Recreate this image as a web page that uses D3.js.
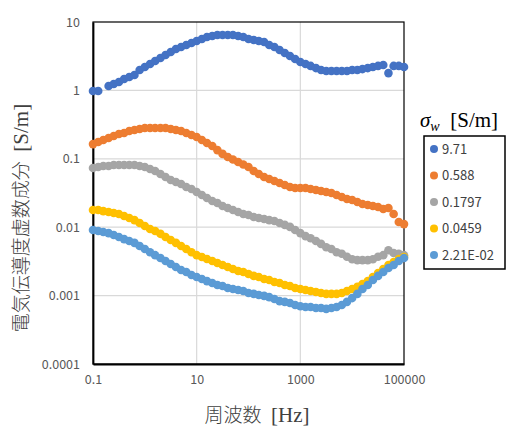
<!DOCTYPE html>
<html><head><meta charset="utf-8">
<script src="https://cdn.jsdelivr.net/npm/d3@7"></script>
<style>body{margin:0;background:#fff}svg{display:block}.sf{font-family:"Liberation Serif","DejaVu Serif",serif}.jp{font-family:"Noto Sans CJK JP",sans-serif;font-weight:300}</style>
</head><body><svg id="c" width="507" height="427"></svg>
<script>
const freq = [0.1,0.126,0.158,0.2,0.251,0.316,0.398,0.501,0.631,0.794,
1,1.26,1.58,2,2.51,3.16,3.98,5.01,6.31,7.94,
10,12.6,15.8,20,25.1,31.6,39.8,50.1,63.1,79.4,
100,126,158,200,251,316,398,501,631,794,
1000,1260,1580,2000,2510,3160,3980,5010,6310,7940,
10000,12600,15800,20000,25100,31600,39800,50100,63100,79400,
100000];
const s971 = [0.98,0.98,null,1.16,1.24,1.33,1.47,1.57,1.68,1.99,
2.20,2.43,2.69,2.98,3.30,3.64,4.03,4.31,4.61,4.93,
5.28,5.64,6.04,6.24,6.45,6.45,6.45,6.45,6.24,6.04,
5.64,5.46,5.28,5.10,4.61,4.31,3.90,3.52,3.18,2.88,
2.60,2.43,2.28,2.12,1.99,1.92,1.92,1.92,1.92,1.92,
1.99,1.99,2.05,2.12,2.20,2.28,2.35,1.79,2.28,2.28,
2.20];
const s0588 = [0.164,0.176,0.188,0.201,0.215,0.231,0.238,0.255,0.264,0.273,
0.282,0.282,0.282,0.282,0.282,0.273,0.264,0.255,0.238,0.223,
0.208,0.188,0.170,0.154,0.134,0.118,0.106,0.0977,0.0900,0.0827,
0.0759,0.0664,0.0600,0.0542,0.0507,0.0474,0.0443,0.0414,0.0387,0.0374,
0.0374,0.0374,0.0362,0.0350,0.0338,0.0327,0.0316,0.0296,0.0277,0.0258,
0.0250,0.0234,0.0218,0.0211,0.0204,0.0197,0.0185,0.0191,0.0156,0.0119,
0.0111];
const s01797 = [0.0734,0.0759,0.0785,0.0785,0.0812,0.0812,0.0812,0.0812,0.0812,0.0785,
0.0759,0.0710,0.0664,0.0600,0.0542,0.0490,0.0458,0.0428,0.0387,0.0362,
0.0327,0.0296,0.0267,0.0242,0.0226,0.0204,0.0191,0.0178,0.0167,0.0156,
0.0151,0.0141,0.0136,0.0132,0.0127,0.0123,0.0115,0.0108,0.0101,0.0091,
0.0082,0.0074,0.0069,0.0063,0.0057,0.0051,0.0048,0.0043,0.0041,0.0037,
0.0034,0.0033,0.0033,0.0033,0.0034,0.0037,0.0039,0.0046,0.0042,0.0041,
0.0039];
const s00459 = [0.0178,0.0178,0.0172,0.0167,0.0161,0.0156,0.0146,0.0136,0.0127,0.0115,
0.0104,0.0094,0.0088,0.0080,0.0072,0.0065,0.0059,0.0053,0.0048,0.0043,
0.0039,0.00367,0.00343,0.00320,0.00300,0.00280,0.00262,0.00245,0.00229,0.00221,
0.00207,0.00194,0.00187,0.00175,0.00169,0.00158,0.00153,0.00143,0.00138,0.00129,
0.00125,0.00121,0.00117,0.00113,0.00109,0.00106,0.00106,0.00106,0.00109,0.00117,
0.00125,0.00134,0.00148,0.00163,0.00187,0.00214,0.00245,0.00280,0.00310,0.00343,
0.00367];
const s00221 = [0.0091,0.0088,0.0085,0.0082,0.0077,0.0072,0.0067,0.0063,0.0059,0.0053,
0.0048,0.0043,0.0039,0.00355,0.00320,0.00290,0.00262,0.00237,0.00221,0.00200,
0.00187,0.00175,0.00163,0.00153,0.00143,0.00138,0.00129,0.00125,0.00121,0.00117,
0.00109,0.00106,0.00102,0.00099,0.00095,0.00089,0.00083,0.00081,0.00078,0.00073,
0.00070,0.00068,0.00068,0.00066,0.00066,0.00064,0.00066,0.00068,0.00073,0.00081,
0.00092,0.00106,0.00125,0.00143,0.00169,0.00194,0.00221,0.00253,0.00280,0.00320,
0.00355];
const seriesNames = ["9.71","0.588","0.1797","0.0459","2.21E-02"];
const seriesValues = [s971,s0588,s01797,s00459,s00221];
const seriesColors = ["#4472C4","#ED7D31","#A5A5A5","#FFC000","#5B9BD5"];
const xTicks = [0.1,10,1000,100000];
const xTickLabels = ["0.1","10","1000","100000"];
const yTicks = [0.0001,0.001,0.01,0.1,1,10];
const yTickLabels = ["0.0001","0.001","0.01","0.1","1","10"];

const svg = d3.select("#c");
const L=93,T=22,R=404,B=364;
const x = d3.scaleLog().domain([0.1,100000]).range([L,R]);
const y = d3.scaleLog().domain([0.0001,10]).range([B,T]);

// grid
svg.append("g").selectAll("line").data(yTicks.slice(1,-1)).join("line")
  .attr("x1",L).attr("x2",R).attr("y1",d=>y(d)).attr("y2",d=>y(d))
  .attr("stroke","#d9d9d9").attr("stroke-width",1.2);
svg.append("g").selectAll("line").data(xTicks.slice(1,-1)).join("line")
  .attr("y1",T).attr("y2",B).attr("x1",d=>x(d)).attr("x2",d=>x(d))
  .attr("stroke","#d9d9d9").attr("stroke-width",1.2);
svg.append("rect").attr("x",L).attr("y",T).attr("width",R-L).attr("height",B-T)
  .attr("fill","none").attr("stroke","#000").attr("stroke-width",1.2);

const tickFont = "'Noto Sans CJK JP','Noto Sans',sans-serif";
const ya = svg.append("g").attr("transform",`translate(${L},0)`)
  .call(d3.axisLeft(y).tickValues(yTicks).tickSize(0).tickPadding(13)
    .tickFormat((d,i)=>yTickLabels[i]));
const xa = svg.append("g").attr("transform",`translate(0,${B})`)
  .call(d3.axisBottom(x).tickValues(xTicks).tickSize(0).tickPadding(11)
    .tickFormat((d,i)=>xTickLabels[i]));
[ya,xa].forEach(a=>{
  a.select(".domain").attr("stroke","#000").attr("stroke-width",1.8);
  a.selectAll("text").attr("fill","#595959").style("font-family",tickFont)
   .style("font-size","12.5px");
});

// series
seriesValues.forEach((vals,si)=>{
  const pts = freq.map((f,i)=>({f,v:vals[i]})).filter(p=>p.v!=null);
  svg.append("g").selectAll("circle").data(pts).join("circle")
    .attr("cx",p=>x(p.f)).attr("cy",p=>y(p.v)).attr("r",4.3)
    .attr("fill",seriesColors[si]);
});

// axis titles
const yt = svg.append("text").attr("transform","translate(28,218) rotate(-90)")
  .attr("text-anchor","middle").attr("fill","#404040").attr("font-size",19);
yt.append("tspan").attr("class","jp").text("電気伝導度虚数成分\u2002");
yt.append("tspan").attr("class","sf").attr("font-size",21).text("[S/m]");
const xt = svg.append("text").attr("x",257).attr("y",422)
  .attr("text-anchor","middle").attr("fill","#404040").attr("font-size",19);
xt.append("tspan").attr("class","jp").text("周波数\u2002");
xt.append("tspan").attr("class","sf").attr("font-size",21).text("[Hz]");

// legend title
const lt = svg.append("text").attr("x",420).attr("y",127).attr("fill","#000")
  .attr("class","sf").attr("font-size",21);
lt.append("tspan").attr("font-style","italic").text("σ");
lt.append("tspan").attr("font-style","italic").attr("font-size",14).attr("dy",4).text("w");
lt.append("tspan").attr("dy",-4).text("\u2002[S/m]");

// legend
svg.append("rect").attr("x",424).attr("y",136).attr("width",81).attr("height",133)
  .attr("fill","#fff").attr("stroke","#000").attr("stroke-width",1.5);
const lg = svg.append("g").selectAll("g").data(seriesNames).join("g")
  .attr("transform",(d,i)=>`translate(434,${149+i*26.5})`);
lg.append("circle").attr("r",4).attr("fill",(d,i)=>seriesColors[i]);
lg.append("text").attr("x",8).attr("dy","0.35em").text(d=>d)
  .attr("fill","#404040").style("font-family",tickFont).style("font-size","13px");
</script></body></html>
